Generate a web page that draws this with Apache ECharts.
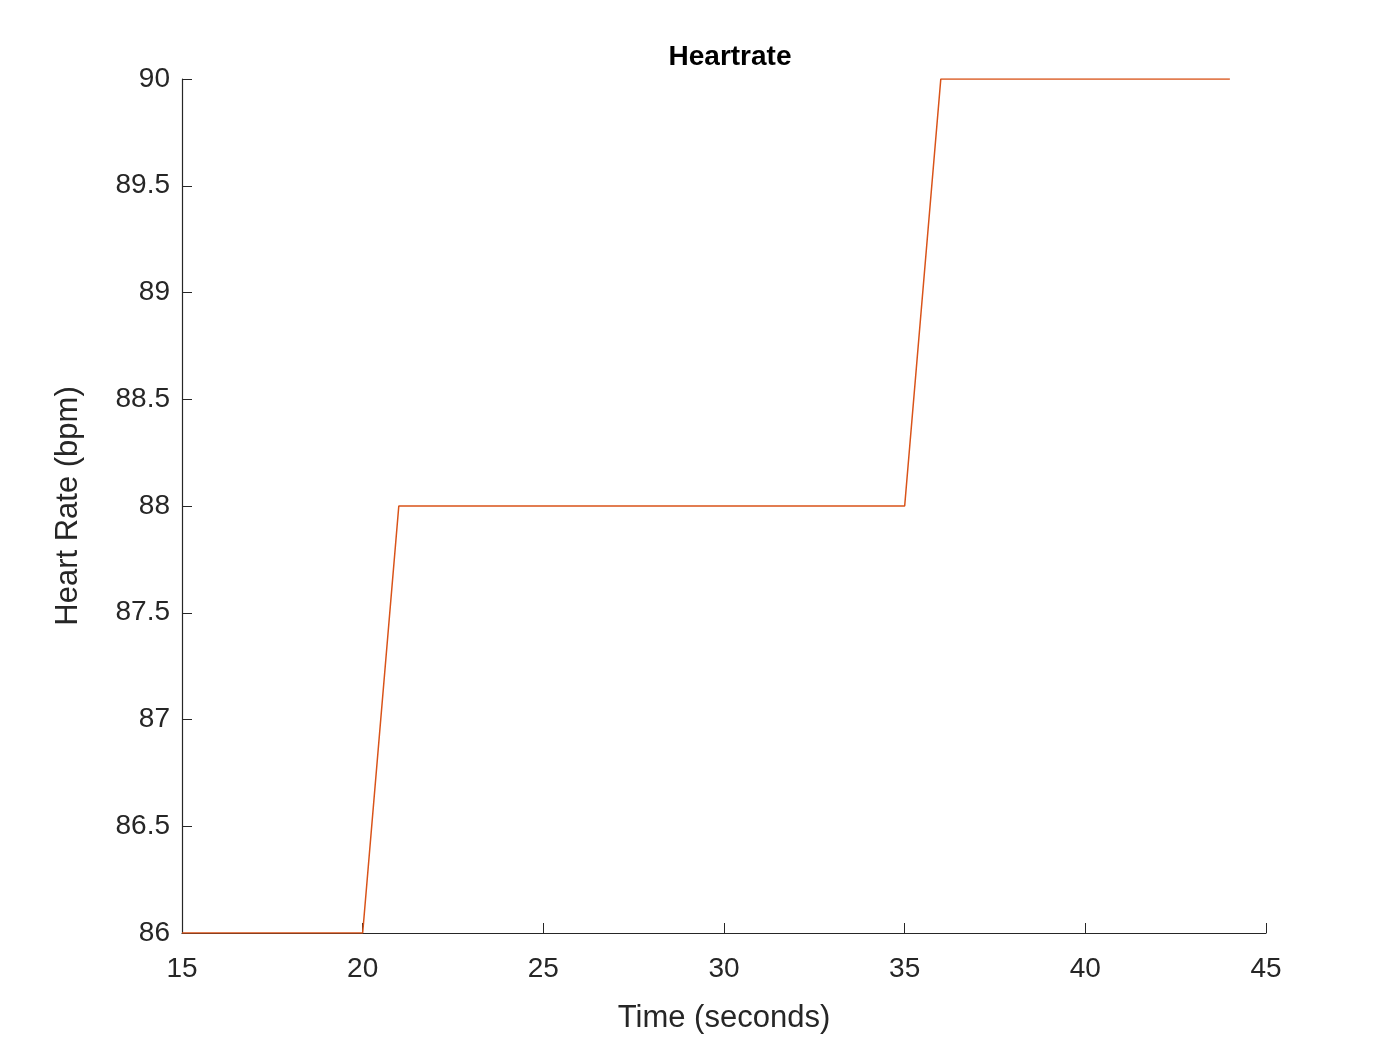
<!DOCTYPE html>
<html>
<head>
<meta charset="utf-8">
<script src="https://cdn.jsdelivr.net/npm/echarts@6/dist/echarts.min.js"></script>
<style>html,body{margin:0;padding:0;background:#fff}#chart{width:1400px;height:1050px}</style>
</head>
<body>
<div id="chart"></div>
<script>
const times = [15,16,17,18,19,20,21,22,23,24,25,26,27,28,29,30,31,32,33,34,35,36,37,38,39,40,41,42,43,44];
const heartRate = [86,86,86,86,86,86,88,88,88,88,88,88,88,88,88,88,88,88,88,88,88,90,90,90,90,90,90,90,90,90];
const xTicks = [15,20,25,30,35,40,45];
const yTicks = [86,86.5,87,87.5,88,88.5,89,89.5,90];

const axisColor = '#262626';
const chart = echarts.init(document.getElementById('chart'));
chart.setOption({
  animation: false,
  title: {
    text: 'Heartrate', left: 725, top: 38, textAlign: 'center',
    textStyle: { fontFamily: 'Arial, Liberation Sans', fontSize: 28, fontWeight: 'bold', color: '#000' }
  },
  grid: { left: 182, right: 134, top: 79, bottom: 117 },
  xAxis: {
    type: 'value', min: 15, max: 45, interval: 5,
    name: 'Time (seconds)', nameLocation: 'middle', nameGap: 70,
    nameTextStyle: { fontFamily: 'Arial, Liberation Sans', fontSize: 31, color: axisColor },
    axisLine: { lineStyle: { color: axisColor, width: 1.2 } },
    axisTick: { inside: true, length: 10, lineStyle: { color: axisColor } },
    axisLabel: { fontFamily: 'Arial, Liberation Sans', fontSize: 28, color: axisColor, margin: 22,
      formatter: v => xTicks.includes(v) ? String(v) : '' },
    splitLine: { show: false }
  },
  yAxis: {
    type: 'value', min: 86, max: 90, interval: 0.5,
    name: 'Heart Rate (bpm)', nameLocation: 'middle', nameGap: 98,
    nameTextStyle: { fontFamily: 'Arial, Liberation Sans', fontSize: 31, color: axisColor },
    axisLine: { show: true, lineStyle: { color: axisColor, width: 1.2 } },
    axisTick: { show: true, inside: true, length: 10, lineStyle: { color: axisColor } },
    axisLabel: { fontFamily: 'Arial, Liberation Sans', fontSize: 28, color: axisColor, margin: 12,
      formatter: v => yTicks.includes(v) ? String(v) : '' },
    splitLine: { show: false }
  },
  series: [{
    type: 'line',
    data: times.map((t, i) => [t, heartRate[i]]),
    showSymbol: false,
    lineStyle: { color: '#d95319', width: 1.5 }
  }]
});
</script>
</body>
</html>
